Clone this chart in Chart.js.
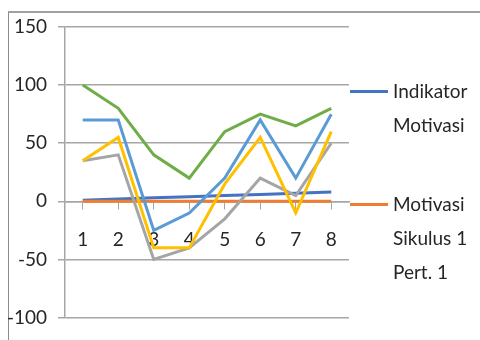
<!DOCTYPE html>
<html>
<head>
<meta charset="utf-8">
<script src="https://cdn.jsdelivr.net/npm/chart.js@4"></script>
<style>
html, body { margin:0; padding:0; background:#fff; }
#wrap { position:relative; width:480px; height:340px; overflow:hidden;
  font-family:Lato, "DejaVu Sans Condensed", sans-serif; }
#frame { position:absolute; left:8px; top:11px; width:600px; height:400px;
  border-top:2px solid #a0a0a0; border-left:1px solid #8c8c8c; }
canvas { position:absolute; left:0; top:0; }
.leg { position:absolute; left:350px; font-size:19px; line-height:34px; color:#262626; }
.leg i { position:absolute; left:0; top:16px; width:38px; height:3px; }
.leg span { display:block; margin-left:43px; white-space:nowrap; }
</style>
</head>
<body>
<div id="wrap">
  <div id="frame"></div>
  <canvas id="chart" width="480" height="340"></canvas>
  <div class="leg" style="top:74px"><i style="background:#4472C4"></i><span>Indikator<br>Motivasi</span></div>
  <div class="leg" style="top:187px"><i style="background:#ED7D31"></i><span>Motivasi<br>Sikulus 1<br>Pert. 1</span></div>
</div>
<script>
// categories (indikator number)
const labels = ['1','2','3','4','5','6','7','8'];

// series
const indikator = [1, 2, 3, 4, 5, 6, 7, 8];
const pert1 = [0, 0, 0, 0, 0, 0, 0, 0];
const pert2 = [35, 40, -50, -40, -15, 20, 5, 50];
const pert3 = [35, 55, -40, -40, 15, 55, -10, 60];
const pert4 = [70, 70, -25, -10, 20, 70, 20, 75];
const pert5 = [100, 80, 40, 20, 60, 75, 65, 80];

const yMin = -100, yMax = 150, yStep = 50;

const fontFam = 'Lato, "DejaVu Sans Condensed", sans-serif';
const gridCol = '#a6a6a6';

const series = [
  { label:'Indikator Motivasi', data:indikator, color:'#4472C4' },
  { label:'Motivasi Sikulus 1 Pert. 1', data:pert1, color:'#ED7D31' },
  { label:'Motivasi Sikulus 1 Pert. 2', data:pert2, color:'#A5A5A5' },
  { label:'Motivasi Sikulus 1 Pert. 3', data:pert3, color:'#FFC000' },
  { label:'Motivasi Sikulus 1 Pert. 4', data:pert4, color:'#5B9BD5' },
  { label:'Motivasi Sikulus 1 Pert. 5', data:pert5, color:'#70AD47' }
];

new Chart(document.getElementById('chart'), {
  type: 'line',
  data: {
    labels,
    datasets: series.map((s, i) => ({
      label: s.label,
      data: s.data,
      borderColor: s.color,
      backgroundColor: s.color,
      borderWidth: 3,
      pointRadius: 0,
      tension: 0,
      fill: false,
      order: series.length - i   // later series drawn on top, like Excel
    }))
  },
  options: {
    responsive: false,
    animation: false,
    devicePixelRatio: 1,
    layout: { padding: { top: 27, bottom: 15, left: 0, right: 131 } },
    plugins: { legend: { display:false }, tooltip: { enabled:false } },
    scales: {
      x: {
        position: { y: 0 },
        offset: true,
        grid: { drawOnChartArea:false, drawTicks:true, tickLength:7, color:gridCol, lineWidth:1 },
        border: { color:gridCol, width:1.5 },
        ticks: { color:'#262626', padding:20, font:{ family:fontFam, size:19 } }
      },
      y: {
        min: yMin, max: yMax,
        ticks: { stepSize:yStep, color:'#262626', padding:11, font:{ family:fontFam, size:19 } },
        grid: { color:gridCol, lineWidth:1.5, tickLength:7 },
        border: { color:gridCol, width:1.5 },
        afterFit: s => { s.width = 65; }
      }
    }
  }
});
</script>
</body>
</html>
